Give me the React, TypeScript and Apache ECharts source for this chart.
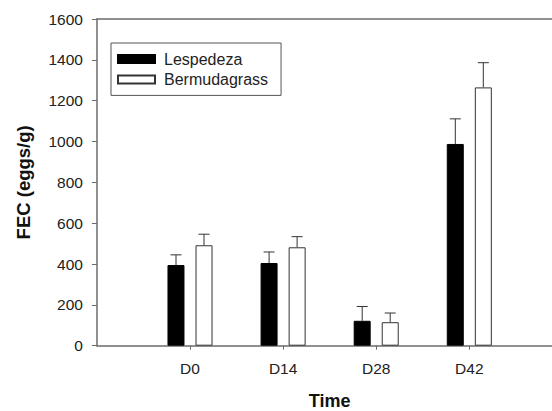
import React, { useEffect, useRef } from "react";
import * as echarts from "echarts";

const categories = ["", "D0", "D14", "D28", "D42", ""];
const lespedeza = [null, 395, 405, 122, 988, null];
const lespedezaErr = [null, 50, 54, 70, 123, null];
const bermuda = [null, 492, 482, 115, 1265, null];
const bermudaErr = [null, 54, 52, 45, 121, null];
const yTicks = { min: 0, max: 1600, interval: 200 };

const FONT = "'Liberation Sans', Arial, sans-serif";
const BAR_W = 17;
const OFFSET = 14;

function errorSeries(values: (number | null)[], errs: (number | null)[], dx: number) {
  const data = values
    .map((v, i) => (v == null ? null : [i, v, v + (errs[i] as number)]))
    .filter((d) => d !== null);
  return {
    type: "custom",
    silent: true,
    z: 5,
    data,
    renderItem: (params: any, api: any) => {
      const base = api.coord([api.value(0), api.value(1)]);
      const top = api.coord([api.value(0), api.value(2)]);
      const x = base[0] + dx;
      const stroke = { stroke: "#333", lineWidth: 1 };
      return {
        type: "group",
        children: [
          { type: "line", shape: { x1: x, y1: base[1], x2: x, y2: top[1] }, style: stroke },
          { type: "line", shape: { x1: x - 5.5, y1: top[1], x2: x + 5.5, y2: top[1] }, style: stroke },
        ],
      };
    },
  };
}

export default function App() {
  const ref = useRef<HTMLDivElement>(null);
  useEffect(() => {
    const chart = echarts.init(ref.current!, null, { renderer: "svg" });
    const axisColor = "#6b6b6b";
    chart.setOption({
      animation: false,
      textStyle: { fontFamily: FONT },
      grid: {
        left: 96.9,
        top: 19,
        bottom: 65.3,
        right: 137.6,
        containLabel: false,
        outerBoundsMode: "none",
        show: false,
      },
      legend: {
        orient: "vertical",
        left: 111,
        top: 43,
        itemWidth: 37,
        itemHeight: 8,
        itemGap: 4.4,
        padding: [8, 13, 8, 6],
        borderColor: "#555",
        borderWidth: 1,
        icon: "rect",
        textStyle: { fontSize: 16, color: "#222", fontFamily: FONT, lineHeight: 16, padding: [0, 0, 0, 4] },
        data: ["Lespedeza", "Bermudagrass"],
      },
      xAxis: [
        {
          type: "category",
          data: categories,
          boundaryGap: false,
          name: "Time",
          nameLocation: "middle",
          nameGap: 46,
          nameTextStyle: { fontSize: 18, fontWeight: "bold", color: "#111", fontFamily: FONT },
          axisLine: { lineStyle: { color: axisColor, width: 1.5 } },
          axisTick: {
            show: true,
            length: 4,
            interval: (idx: number, val: string) => val !== "",
            lineStyle: { color: axisColor },
          },
          axisLabel: { fontSize: 15.5, color: "#222", margin: 15, interval: 0 },
          splitLine: { show: false },
        },
        {
          type: "category",
          data: categories,
          boundaryGap: false,
          position: "top",
          axisLine: { show: true, lineStyle: { color: axisColor, width: 1.5 } },
          axisTick: { show: false },
          axisLabel: { show: false },
          splitLine: { show: false },
        },
      ],
      yAxis: {
        type: "value",
        min: yTicks.min,
        max: yTicks.max,
        interval: yTicks.interval,
        name: "FEC (eggs/g)",
        nameLocation: "middle",
        nameGap: 63.5,
        nameTextStyle: { fontSize: 18.5, fontWeight: "bold", color: "#111", fontFamily: FONT },
        axisLine: { show: true, lineStyle: { color: axisColor, width: 1.5 } },
        axisTick: { show: true, length: 5, lineStyle: { color: axisColor } },
        axisLabel: { fontSize: 15.5, color: "#222", margin: 14, formatter: (v: number) => String(v) },
        splitLine: { show: false },
      },
      series: [
        {
          name: "Lespedeza",
          type: "bar",
          data: lespedeza,
          barWidth: BAR_W,
          barGap: "65%",
          itemStyle: { color: "#000", borderColor: "#000", borderWidth: 1 },
        },
        {
          name: "Bermudagrass",
          type: "bar",
          data: bermuda,
          barWidth: BAR_W,
          barGap: "65%",
          itemStyle: { color: "#fff", borderColor: "#333", borderWidth: 1 },
        },
        errorSeries(lespedeza, lespedezaErr, -OFFSET),
        errorSeries(bermuda, bermudaErr, OFFSET),
      ],
    });
    return () => chart.dispose();
  }, []);
  return (
    <div style={{ position: "fixed", left: 0, top: 0, width: 552, height: 411, overflow: "hidden", background: "#fff" }}>
      <div ref={ref} style={{ position: "absolute", left: 0, top: 0, width: 700, height: 411 }} />
    </div>
  );
}
